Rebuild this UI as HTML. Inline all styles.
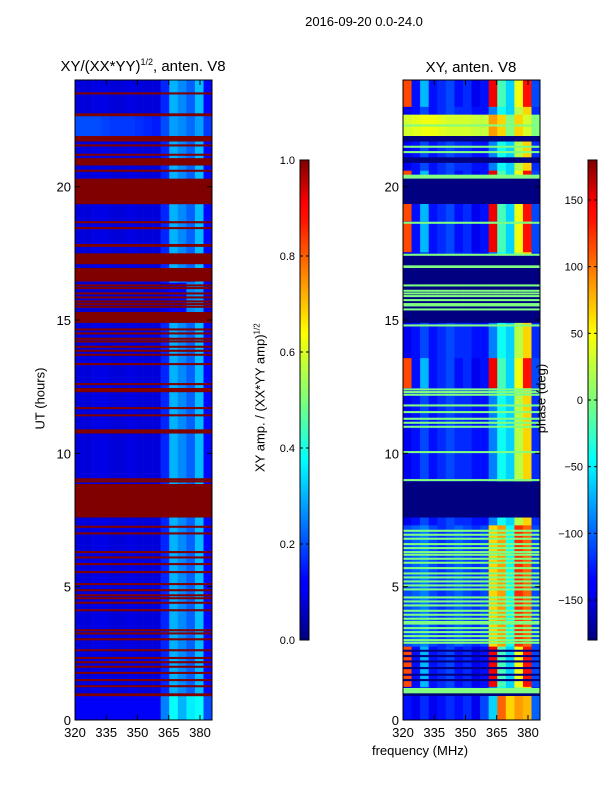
<!DOCTYPE html>
<html><head><meta charset="utf-8"><style>
body{margin:0;background:#fff;}
svg{display:block;font-family:"Liberation Sans",sans-serif;}
</style></head><body>
<svg id="fig" width="600" height="800" viewBox="0 0 600 800">
<defs>
<linearGradient id="jet" x1="0" y1="1" x2="0" y2="0">
<stop offset="0" stop-color="#00007f"/><stop offset="0.11" stop-color="#0000ff"/><stop offset="0.125" stop-color="#0000ff"/>
<stop offset="0.34" stop-color="#00ddff"/><stop offset="0.375" stop-color="#00ffff"/><stop offset="0.5" stop-color="#7dff7a"/>
<stop offset="0.64" stop-color="#ffff00"/><stop offset="0.875" stop-color="#ff1300"/><stop offset="0.91" stop-color="#ff0000"/><stop offset="1" stop-color="#7f0000"/>
</linearGradient>
</defs>
<text x="364" y="26" font-size="13" text-anchor="middle">2016-09-20 0.0-24.0</text>
<g id="left"></g>
<g id="right"></g>
<g id="axes"></g>
</svg>
<script>
// ---- data ----
const hourTicks = [0, 5, 10, 15, 20];
const freqTicks = [320, 335, 350, 365, 380];
const ampTicks = [0.0, 0.2, 0.4, 0.6, 0.8, 1.0];
const phaseTicks = [-150, -100, -50, 0, 50, 100, 150];
// amplitude row patterns (16 frequency columns, 320-386 MHz)
const ampNormal = [.09,.09,.1,.1,.09,.09,.1,.09,.09,.09,.16,.3,.26,.22,.31,.13];
const ampFlag = [1,1,1,1,1,1,1,1,1,1,1,1,1,1,1,1];
const ampLight = [.2,.2,.2,.19,.18,.18,.18,.17,.16,.15,.2,.28,.26,.23,.28,.18];
const ampBright = [.12,.12,.12,.12,.12,.12,.12,.12,.12,.12,.25,.38,.3,.36,.38,.2];
const ampQuiet = [.08,.08,.08,.08,.08,.08,.08,.08,.08,.08,.1,.13,.13,.26,.28,.1];
const ampPatterns = [ampNormal, ampFlag, ampLight, ampBright, ampQuiet];
// [startHour, endHour, pattern]
const ampSegments = [[0,0.9,3],[14.9,16.4,4],[21.9,22.7,2],[22.65,22.75,1],[21.7,21.9,1],[20.8,21.07,1],[19.35,20.3,1],[17.75,17.85,1],[17.1,17.5,1],[16.45,16.95,1],[14.9,15.3,1],[12.3,12.45,1],[10.75,10.9,1],[7.6,8.85,1],[0.9,1.0,1]];
const ampLines = [23.5,21.55,21.2,20.6,18.67,18.45,16.3,16.2,16.0,15.85,15.7,15.6,15.5,14.65,14.5,14.3,14.2,14.0,13.85,13.7,13.35,12.6,11.7,11.43,9.03,8.95,7.25,7.0,6.3,6.1,5.85,5.55,5.1,4.87,4.68,4.57,4.4,4.12,3.37,3.25,3.03,2.62,2.33,2.17,2.0,1.77,1.5,1.27];
// phase row patterns (deg)
const phNormal = [-140,-130,-110,-130,-120,-110,-120,-120,-130,-130,-90,-40,-60,20,60,-120];
const phNavy = [-180,-180,-180,-180,-180,-180,-180,-180,-180,-180,-180,-180,-180,-180,-180,-180];
const phGreen = [0,0,0,0,0,0,0,0,0,0,0,0,0,0,0,0];
const phYellow = [30,35,40,40,35,30,30,30,25,25,80,60,0,60,30,0];
const phRed = [110,-130,-70,-130,-120,-110,-130,-120,-140,-130,140,-20,-60,40,130,-110];
const phBottom = [-130,-140,-120,-140,-130,-120,-130,-120,-140,-110,-60,100,60,80,70,-100];
const phStripe = [-110,-100,-90,-110,-120,-110,-100,-110,-120,-110,60,80,-40,120,100,-110];
const phPatterns = [phNormal, phNavy, phGreen, phYellow, phRed, phBottom, phStripe];
const phSegments = [[23.0,24,4],[21.85,22.7,3],[21.7,21.9,1],[20.9,21.1,1],[20.45,20.6,4],[20.3,20.45,2],[19.35,20.3,1],[18.7,19.35,4],[17.55,18.65,4],[17.05,17.45,1],[16.95,17.05,2],[15.3,16.95,1],[14.9,15.3,1],[12.45,13.57,4],[7.6,8.95,1],[2.75,7.3,6],[1.25,2.75,4],[1.0,1.2,2],[0.9,1.0,1],[0,0.9,5]];
const phGreenLines = [22.3,21.5,21.3,18.65,17.45,16.3,16.1,16.0,15.9,15.75,15.6,15.55,15.4,14.8,12.4,12.3,12.2,11.8,11.55,11.3,11.15,11.0,10.05,9.0,7.1,6.95,6.8,6.6,6.45,6.3,6.2,6.05,5.9,5.7,5.5,5.35,5.2,5.05,4.9,4.6,4.45,4.3,4.1,3.95,3.8,3.68,3.62,3.45,3.3,3.15,3.0,2.9];
const phNavyLines = [2.6,2.4,2.2,1.95,1.7,1.5];

// ---- scales ----
const NS = "http://www.w3.org/2000/svg";
const Y0 = 720, Y1 = 80;
const yH = h => Y0 - h * (Y0 - Y1) / 24;
const FMIN = 320, FMAX = 385.8, NC = 16;
function xF(x0, f){ return x0 + (f - FMIN) * 125 / 60; }
function jet(v){
  v = Math.max(0, Math.min(1, v));
  const c = t => Math.round(255 * Math.max(0, Math.min(1, 1.5 - Math.abs(4 * v - t))));
  return `rgb(${c(3)},${c(2)},${c(1)})`;
}
const ampNorm = v => v;
const phNorm = v => (v + 180) / 360;
function mk(tag, attrs, parent){ const e = document.createElementNS(NS, tag); for (const k in attrs) e.setAttribute(k, attrs[k]); parent.appendChild(e); return e; }
function drawRow(g, x0, h0, h1, pat, norm){
  const fw = (FMAX - FMIN) / NC;
  for (let i = 0; i < NC; i++){
    const xa = xF(x0, FMIN + i * fw), xb = xF(x0, FMIN + (i + 1) * fw);
    const r = mk('rect', {x: xa, y: yH(h1), width: xb - xa + 0.3, height: yH(h0) - yH(h1) + 0.2, fill: jet(norm(pat[i]))}, g);
    
    
  }
}
const gl = document.getElementById('left'), gr = document.getElementById('right');
drawRow(gl, 75, 0, 24, ampNormal, ampNorm);
ampSegments.forEach(s => drawRow(gl, 75, s[0], s[1], ampPatterns[s[2]], ampNorm));
ampLines.forEach(h => drawRow(gl, 75, h - 0.035, h + 0.035, ampFlag, ampNorm));
drawRow(gr, 403, 0, 24, phNormal, phNorm);
phSegments.forEach(s => drawRow(gr, 403, s[0], s[1], phPatterns[s[2]], phNorm));
phGreenLines.forEach(h => drawRow(gr, 403, h - 0.035, h + 0.035, phGreen, phNorm));
phNavyLines.forEach(h => drawRow(gr, 403, h - 0.035, h + 0.035, phNavy, phNorm));

// ---- axes ----
const ax = document.getElementById('axes');
function panelAxes(x0, name){
  const f = mk('rect', {x: x0, y: Y1, width: 137, height: Y0 - Y1, fill: 'none', stroke: '#000', 'stroke-width': 1}, ax);
  
  
  hourTicks.forEach(h => {
    mk('line', {x1: x0, x2: x0 + 5, y1: yH(h), y2: yH(h), stroke: '#000'}, ax);
    mk('line', {x1: x0 + 137, x2: x0 + 132, y1: yH(h), y2: yH(h), stroke: '#000'}, ax);
    const t = mk('text', {x: x0 - 4, y: yH(h) + 5, 'font-size': 13, 'text-anchor': 'end'}, ax);
    t.textContent = h;
    
    
  });
  freqTicks.forEach(fq => {
    const x = xF(x0, fq);
    mk('line', {x1: x, x2: x, y1: Y0, y2: Y0 - 5, stroke: '#000'}, ax);
    mk('line', {x1: x, x2: x, y1: Y1, y2: Y1 + 5, stroke: '#000'}, ax);
    const t = mk('text', {x: x, y: 737, 'font-size': 13, 'text-anchor': 'middle'}, ax);
    t.textContent = fq;
    
    
  });
}
panelAxes(75, 'amplitude-panel');
panelAxes(403, 'phase-panel');
function colorbar(x0, ticks, norm, name){
  const b = mk('rect', {x: x0, y: 160, width: 9, height: 480, fill: 'url(#jet)', stroke: '#000', 'stroke-width': 1}, ax);
  
  
  ticks.forEach(v => {
    const y = 640 - norm(v) * 480;
    mk('line', {x1: x0, x2: x0 + 3, y1: y, y2: y, stroke: '#000'}, ax);
    mk('line', {x1: x0 + 9, x2: x0 + 6, y1: y, y2: y, stroke: '#000'}, ax);
    const t = mk('text', {x: x0 - 5, y: y + 4, 'font-size': 11, 'text-anchor': 'end'}, ax);
    t.textContent = name.indexOf('amp') >= 0 ? v.toFixed(1) : (v < 0 ? '\u2212' + (-v) : v);
    
    
  });
}
colorbar(300, ampTicks, ampNorm, 'amp-colorbar');
colorbar(588, phaseTicks, phNorm, 'phase-colorbar');
</script>
<div style="position:absolute;left:0;top:0;width:600px;height:800px;pointer-events:none;font-family:'Liberation Sans',sans-serif;">
<div style="position:absolute;left:43px;top:57px;width:200px;text-align:center;font-size:15px;">XY/(XX*YY)<sup style="font-size:9px;">1/2</sup>, anten. V8</div>
<div style="position:absolute;left:371px;top:59px;width:200px;text-align:center;font-size:15px;">XY, anten. V8</div>
<div style="position:absolute;left:-10px;top:391px;width:100px;text-align:center;font-size:13px;transform:rotate(-90deg);">UT (hours)</div>
<div style="position:absolute;left:160px;top:390px;width:200px;text-align:center;font-size:13px;transform:rotate(-90deg);">XY amp. / (XX*YY amp)<sup style="font-size:8px;">1/2</sup></div>
<div style="position:absolute;left:491px;top:391px;width:100px;text-align:center;font-size:13px;transform:rotate(-90deg);">phase (deg)</div>
<div style="position:absolute;left:320px;top:743px;width:200px;text-align:center;font-size:13px;">frequency (MHz)</div>
</div>
</body></html>
